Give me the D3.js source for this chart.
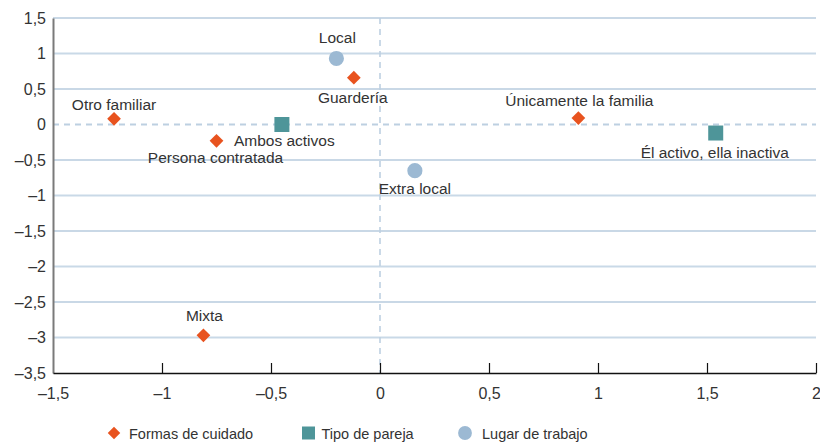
<!DOCTYPE html>
<html>
<head>
<meta charset="utf-8">
<script src="https://cdn.jsdelivr.net/npm/d3@7"></script>
<style>
  body { margin: 0; background: #fff; }
  svg text { font-family: "Liberation Sans", Arial, sans-serif; fill: #333; }
</style>
</head>
<body>
<svg id="chart" width="820" height="443"></svg>
<script>
// data
const seriesNames = ["Formas de cuidado", "Tipo de pareja", "Lugar de trabajo"];
const cuidadoLabels = ["Otro familiar", "Persona contratada", "Guardería", "Únicamente la familia", "Mixta"];
const cuidadoX = [-1.22, -0.75, -0.12, 0.91, -0.81];
const cuidadoY = [0.08, -0.23, 0.66, 0.09, -2.97];
const parejaLabels = ["Ambos activos", "Él activo, ella inactiva"];
const parejaX = [-0.45, 1.54];
const parejaY = [0.0, -0.12];
const lugarLabels = ["Local", "Extra local"];
const lugarX = [-0.2, 0.16];
const lugarY = [0.93, -0.65];
const xTicks = [-1.5, -1, -0.5, 0, 0.5, 1, 1.5, 2];
const yTicks = [1.5, 1, 0.5, 0, -0.5, -1, -1.5, -2, -2.5, -3, -3.5];

// label placement relative to the marker: [dx, dy, anchor]
const labelPos = {
  "Otro familiar": [0, -9, "middle"],
  "Persona contratada": [-1, 22, "middle"],
  "Guardería": [-1, 25, "middle"],
  "Únicamente la familia": [1, -12, "middle"],
  "Mixta": [1, -14, "middle"],
  "Ambos activos": [-48, 21, "start"],
  "Él activo, ella inactiva": [-1, 25, "middle"],
  "Local": [1, -15, "middle"],
  "Extra local": [0, 23, "middle"]
};

const colors = ["#e8531f", "#4e9599", "#9cb9d3"];
const margin = { top: 18, right: 4, bottom: 70, left: 53 };
const width = 820 - margin.left - margin.right;
const height = 443 - margin.top - margin.bottom;

const fmt = v => (v < 0 ? "\u2013" : "") + String(Math.abs(v)).replace(".", ",");

const svg = d3.select("#chart");
const g = svg.append("g").attr("transform", `translate(${margin.left},${margin.top})`);

const x = d3.scaleLinear().domain([-1.5, 2]).range([0, width]);
const y = d3.scaleLinear().domain([-3.5, 1.5]).range([height, 0]);

// horizontal grid
g.selectAll(".grid")
  .data(yTicks.filter(t => t !== -3.5))
  .enter()
  .append("line")
  .attr("x1", 0)
  .attr("x2", width)
  .attr("y1", d => y(d))
  .attr("y2", d => y(d))
  .attr("stroke", d => d === 0 ? "#bdd0e1" : (Number.isInteger(d) ? "#c9d9e7" : "#93b2cd"))
  .attr("stroke-width", d => Number.isInteger(d) ? 2 : 1.2)
  .attr("stroke-dasharray", d => d === 0 ? "6,5" : null);

// vertical dashed line at x = 0
g.append("line")
  .attr("x1", x(0)).attr("x2", x(0))
  .attr("y1", 0).attr("y2", height)
  .attr("stroke", "#bdd0e1")
  .attr("stroke-width", 1.6)
  .attr("stroke-dasharray", "6,5");

// y axis
const yAxis = g.append("g")
  .call(d3.axisLeft(y).tickValues(yTicks).tickFormat(fmt).tickSize(0).tickPadding(7));
yAxis.select(".domain").attr("stroke", "#7a7a7a").attr("stroke-width", 2);
yAxis.selectAll("text").style("font-size", "16px").attr("fill", "#333");

// x axis
const xAxis = g.append("g")
  .attr("transform", `translate(0,${height})`)
  .call(d3.axisBottom(x).tickValues(xTicks).tickFormat(fmt).tickSize(0).tickPadding(15));
xAxis.select(".domain").attr("stroke", "#111").attr("stroke-width", 1.5);
xAxis.selectAll("text").style("font-size", "16px").attr("fill", "#333");
xAxis.selectAll(".tick")
  .filter(d => d !== -1.5)
  .append("line")
  .attr("y1", 0).attr("y2", -10)
  .attr("stroke", "#111")
  .attr("stroke-width", 1.2);

const sym = [d3.symbolDiamond2, d3.symbolSquare, d3.symbolCircle];
const series = [
  { labels: cuidadoLabels, xs: cuidadoX, ys: cuidadoY },
  { labels: parejaLabels, xs: parejaX, ys: parejaY },
  { labels: lugarLabels, xs: lugarX, ys: lugarY }
];
const sizes = [120, 225, 180];

series.forEach((s, i) => {
  const pts = s.labels.map((l, j) => ({ label: l, x: s.xs[j], y: s.ys[j] }));
  g.selectAll(".pt" + i)
    .data(pts)
    .enter()
    .append("path")
    .attr("d", d3.symbol().type(sym[i]).size(sizes[i]))
    .attr("transform", d => `translate(${x(d.x)},${y(d.y)})`)
    .attr("fill", colors[i]);

  g.selectAll(".lb" + i)
    .data(pts)
    .enter()
    .append("text")
    .attr("x", d => x(d.x) + labelPos[d.label][0])
    .attr("y", d => y(d.y) + labelPos[d.label][1])
    .attr("text-anchor", d => labelPos[d.label][2])
    .style("font-size", "15.5px")
    .text(d => d.label);
});

// legend
const legendX = [114, 308.5, 465];
const legendGap = [15, 13, 17];
const legendSizes = [100, 169, 150];
const legend = svg.append("g").attr("transform", "translate(0,433)");
seriesNames.forEach((name, i) => {
  legend.append("path")
    .attr("d", d3.symbol().type(sym[i]).size(legendSizes[i]))
    .attr("transform", `translate(${legendX[i]},0)`)
    .attr("fill", colors[i]);
  legend.append("text")
    .attr("x", legendX[i] + legendGap[i])
    .attr("y", 6)
    .style("font-size", "14.5px")
    .text(name);
});
</script>
</body>
</html>
